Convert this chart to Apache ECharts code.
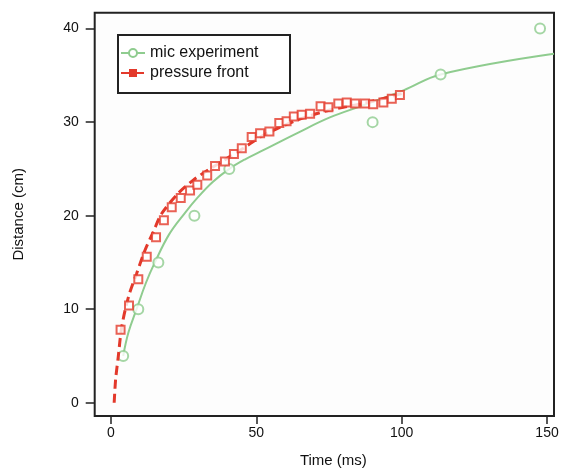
<!DOCTYPE html>
<html>
<head>
<meta charset="utf-8">
<script src="https://cdn.jsdelivr.net/npm/echarts@6/dist/echarts.min.js"></script>
<style>html,body{margin:0;padding:0;background:#fff}#c{width:563px;height:469px}</style>
</head>
<body>
<div id="c"></div>
<script>
// Data
var micPoints = [[4.2,5.0],[9.4,10.0],[16.3,15.0],[28.7,20.0],[40.7,25.0],[90.0,30.0],[113.4,35.1],[147.6,40.0]];
var micFit = [[4.2,5.0],[6,7.5],[8.8,10],[12,12.8],[15.1,15],[20,18],[25.2,20.2],[30,22.0],[35,23.6],[40.7,25.0],[46,26.0],[52.4,27.0],[63.9,28.8],[75.3,30.5],[86.8,31.8],[100.6,33.4],[113.4,35.1],[152.4,37.3]];
var frontPoints = [[3.3,7.8],[6.2,10.4],[9.4,13.2],[12.3,15.6],[15.5,17.7],[18.2,19.5],[20.9,20.9],[24.0,21.9],[27.2,22.7],[29.7,23.3],[33.1,24.3],[35.8,25.3],[39.2,25.8],[42.3,26.6],[45.0,27.2],[48.4,28.4],[51.3,28.8],[54.5,29.0],[57.9,29.9],[60.4,30.1],[62.9,30.6],[65.6,30.8],[68.5,30.9],[72.1,31.7],[74.8,31.6],[78.2,32.0],[81.1,32.1],[84.0,32.0],[87.4,32.0],[90.2,31.9],[93.7,32.1],[96.6,32.5],[99.4,32.9]];
var frontFit = [[1.1,0],[1.6,2.5],[2.5,4.9],[3.7,8.1],[6.0,11.3],[8.8,13.8],[11.7,16.3],[14.6,18.3],[17.4,20.2],[23.2,22.4],[28.3,23.8],[33.5,24.9],[39.8,26.1],[45.5,27.2],[52.4,28.6],[63.9,30.2],[75.3,31.3],[86.8,32.0],[100.6,33.1]];
var xTicks = [0,50,100,150];
var yTicks = [0,10,20,30,40];
var seriesNames = ['mic experiment','pressure front'];

var GREEN = '#8fcc8f', RED = '#e3392b', INK = '#222';
var FONT = 'Liberation Sans, Arial, Helvetica, sans-serif';

var chart = echarts.init(document.getElementById('c'));
chart.setOption({
  animation: false,
  backgroundColor: '#fff',
  grid: {left: 94.7, right: 9, top: 12.7, bottom: 53, outerBoundsMode: 'none', containLabel: false,
         show: true, borderColor: INK, borderWidth: 2, backgroundColor: '#fdfdfd'},
  graphic: [{type: 'rect', left: 117, top: 34, shape: {width: 172, height: 58}, style: {fill: '#fff', stroke: INK, lineWidth: 2}, z: 5}],
  legend: {
    data: seriesNames, orient: 'vertical', left: 120, top: 45, padding: 0, itemGap: 4,
    itemWidth: 24, itemHeight: 10, z: 10,
    textStyle: {fontFamily: FONT, fontSize: 16, color: '#111', lineHeight: 15}
  },
  xAxis: {
    type: 'value', min: -5.6, max: 152.4,
    name: 'Time (ms)', nameLocation: 'middle', nameGap: 37,
    nameTextStyle: {fontFamily: FONT, fontSize: 15, color: '#111', padding: [0,0,0,18]},
    axisLine: {show: false, onZero: false}, splitLine: {show: false},
    axisTick: {show: true, inside: false, length: 8, customValues: xTicks, lineStyle: {color: INK, width: 1.5}},
    axisLabel: {customValues: xTicks, fontFamily: FONT, fontSize: 14, color: '#111', margin: 10}
  },
  yAxis: {
    type: 'value', min: -1.42, max: 41.7,
    name: 'Distance (cm)', nameLocation: 'middle', nameGap: 68,
    nameTextStyle: {fontFamily: FONT, fontSize: 15, color: '#111'},
    axisLine: {show: false, onZero: false}, splitLine: {show: false},
    axisTick: {show: true, inside: false, length: 9, customValues: yTicks, lineStyle: {color: INK, width: 1.5}},
    axisLabel: {customValues: yTicks, fontFamily: FONT, fontSize: 14, color: '#111', margin: 16}
  },
  series: [
    {name: seriesNames[0], type: 'line', data: micFit, smooth: 0.4, symbol: 'emptyCircle', symbolSize: 9, showSymbol: false,
     lineStyle: {color: GREEN, width: 2}, itemStyle: {color: GREEN, borderWidth: 1.5}, z: 2},
    {name: seriesNames[0], type: 'scatter', data: micPoints, symbol: 'emptyCircle', symbolSize: 10,
     itemStyle: {color: GREEN, borderColor: GREEN, borderWidth: 1.6}, z: 3},
    {name: seriesNames[1], type: 'line', data: frontFit, smooth: 0.3, symbol: 'rect', symbolSize: 10, showSymbol: false,
     lineStyle: {color: RED, width: 3, type: [9,5]}, itemStyle: {color: RED}, z: 4},
    {name: seriesNames[1], type: 'scatter', data: frontPoints, symbol: 'emptyRect', symbolSize: 8,
     itemStyle: {color: RED, borderColor: RED, borderWidth: 1.6}, z: 5}
  ]
});
</script>
</body>
</html>
